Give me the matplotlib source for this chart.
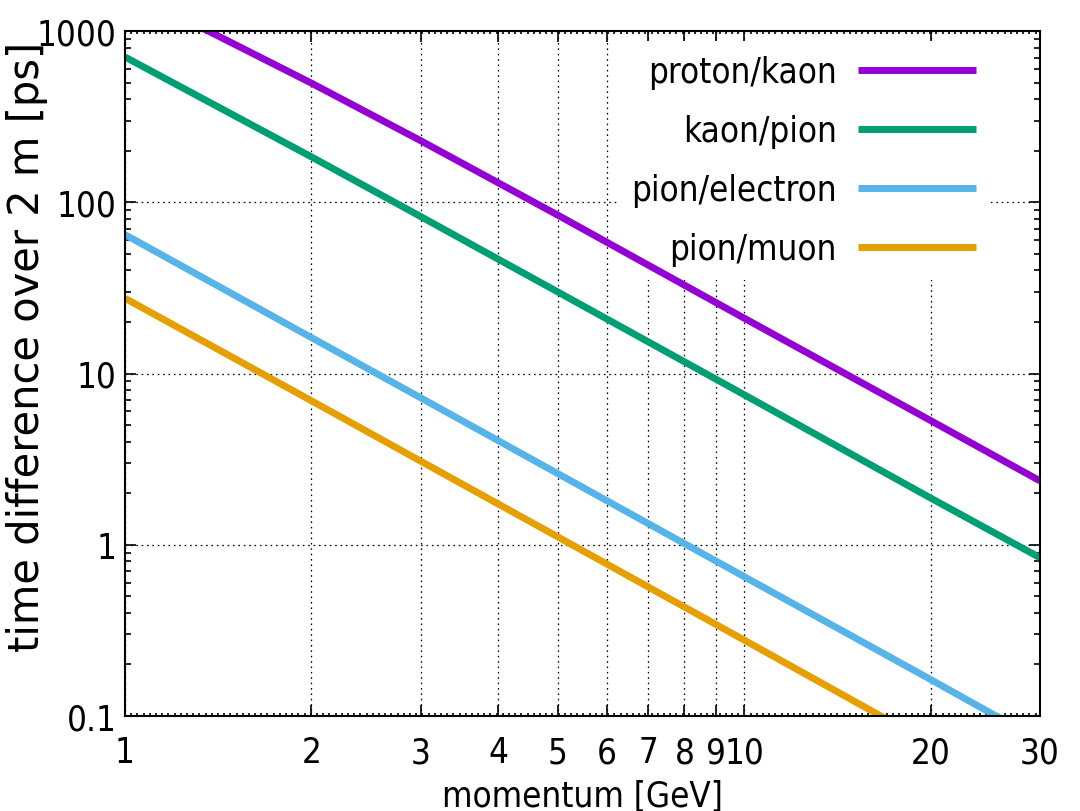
import numpy as np
import matplotlib.pyplot as plt
from matplotlib.ticker import FixedLocator, NullFormatter, LogLocator

plt.rcParams['font.family'] = ['DejaVu Sans']
plt.rcParams['font.stretch'] = 'condensed'

# momentum [GeV] and time difference over 2 m [ps]
p_pk = [1.3, 2, 3, 5, 10, 20, 30]
t_pk = [1090, 496, 229, 84, 21, 5.3, 2.36]

p_kpi = [1, 2, 3, 5, 10, 20, 30]
t_kpi = [705, 184, 82.6, 29.9, 7.5, 1.87, 0.84]

p_pie = [1, 2, 3, 5, 10, 20, 26]
t_pie = [64.7, 16.2, 7.22, 2.6, 0.65, 0.163, 0.096]

p_pimu = [1, 2, 3, 5, 10, 17.5]
t_pimu = [27.5, 6.93, 3.08, 1.11, 0.277, 0.09]

labels = ["proton/kaon", "kaon/pion", "pion/electron", "pion/muon"]
colors = ["#9400D3", "#009E73", "#56B4E9", "#E69F00"]

FS = 25

fig = plt.figure(figsize=(10.8, 8.12), dpi=100)
ax = fig.add_axes([125/1080, 1-717/812, (1040-125)/1080, (717-32)/812])

series = [(p_pk, t_pk), (p_kpi, t_kpi), (p_pie, t_pie), (p_pimu, t_pimu)]
for (p, t), lab, c in zip(series, labels, colors):
    ax.plot(p, t, color=c, lw=5, label=lab, solid_capstyle='butt', zorder=3)

ax.set_xscale('log')
ax.set_yscale('log')
ax.set_xlim(1, 30)
ax.set_ylim(0.1, 1000)

xt = [1, 2, 3, 4, 5, 6, 7, 8, 9, 10, 20, 30]
ax.xaxis.set_major_locator(FixedLocator(xt))
ax.set_xticklabels([str(v) for v in xt])
ax.xaxis.set_minor_locator(FixedLocator(10 ** np.arange(0, np.log10(30), 0.01)))
ax.xaxis.set_minor_formatter(NullFormatter())

yt = [0.1, 1, 10, 100, 1000]
ax.yaxis.set_major_locator(FixedLocator(yt))
ax.set_yticklabels(["0.1", "1", "10", "100", "1000"])
ax.yaxis.set_minor_locator(LogLocator(base=10, subs=np.arange(2, 10)))
ax.yaxis.set_minor_formatter(NullFormatter())

ax.tick_params(which='both', direction='in', top=True, right=True, labelsize=FS, width=1.2)
ax.tick_params(axis='x', which='major', length=8, pad=14)
ax.tick_params(axis='y', which='major', length=8, pad=6)
ax.tick_params(axis='x', which='minor', length=2.5)
ax.tick_params(axis='y', which='minor', length=4)

ax.grid(True, which='major', color='black', lw=0.9, linestyle=(0, (1.3, 3)))
ax.set_axisbelow(True)
for s in ax.spines.values():
    s.set_linewidth(1.5)
    s.set_zorder(4)

ax.set_xlabel("momentum [GeV]", fontsize=FS, labelpad=7)
ax.set_ylabel("time difference over 2 m [ps]", fontsize=30, fontstretch='normal', va='center')
ax.yaxis.set_label_coords((27 - 125) / 915, (717 - 347) / 685)

leg = ax.legend(loc='upper right', bbox_to_anchor=(0.945, 0.985), markerfirst=False,
                fontsize=FS, frameon=True, facecolor='white', edgecolor='none',
                framealpha=1, fancybox=False, handlelength=3.4, handletextpad=0.6,
                labelspacing=0.72, borderaxespad=0, borderpad=0.4)
leg.get_frame().set_linewidth(0)
leg.set_zorder(1)

fig.savefig("out.png", dpi=100)
